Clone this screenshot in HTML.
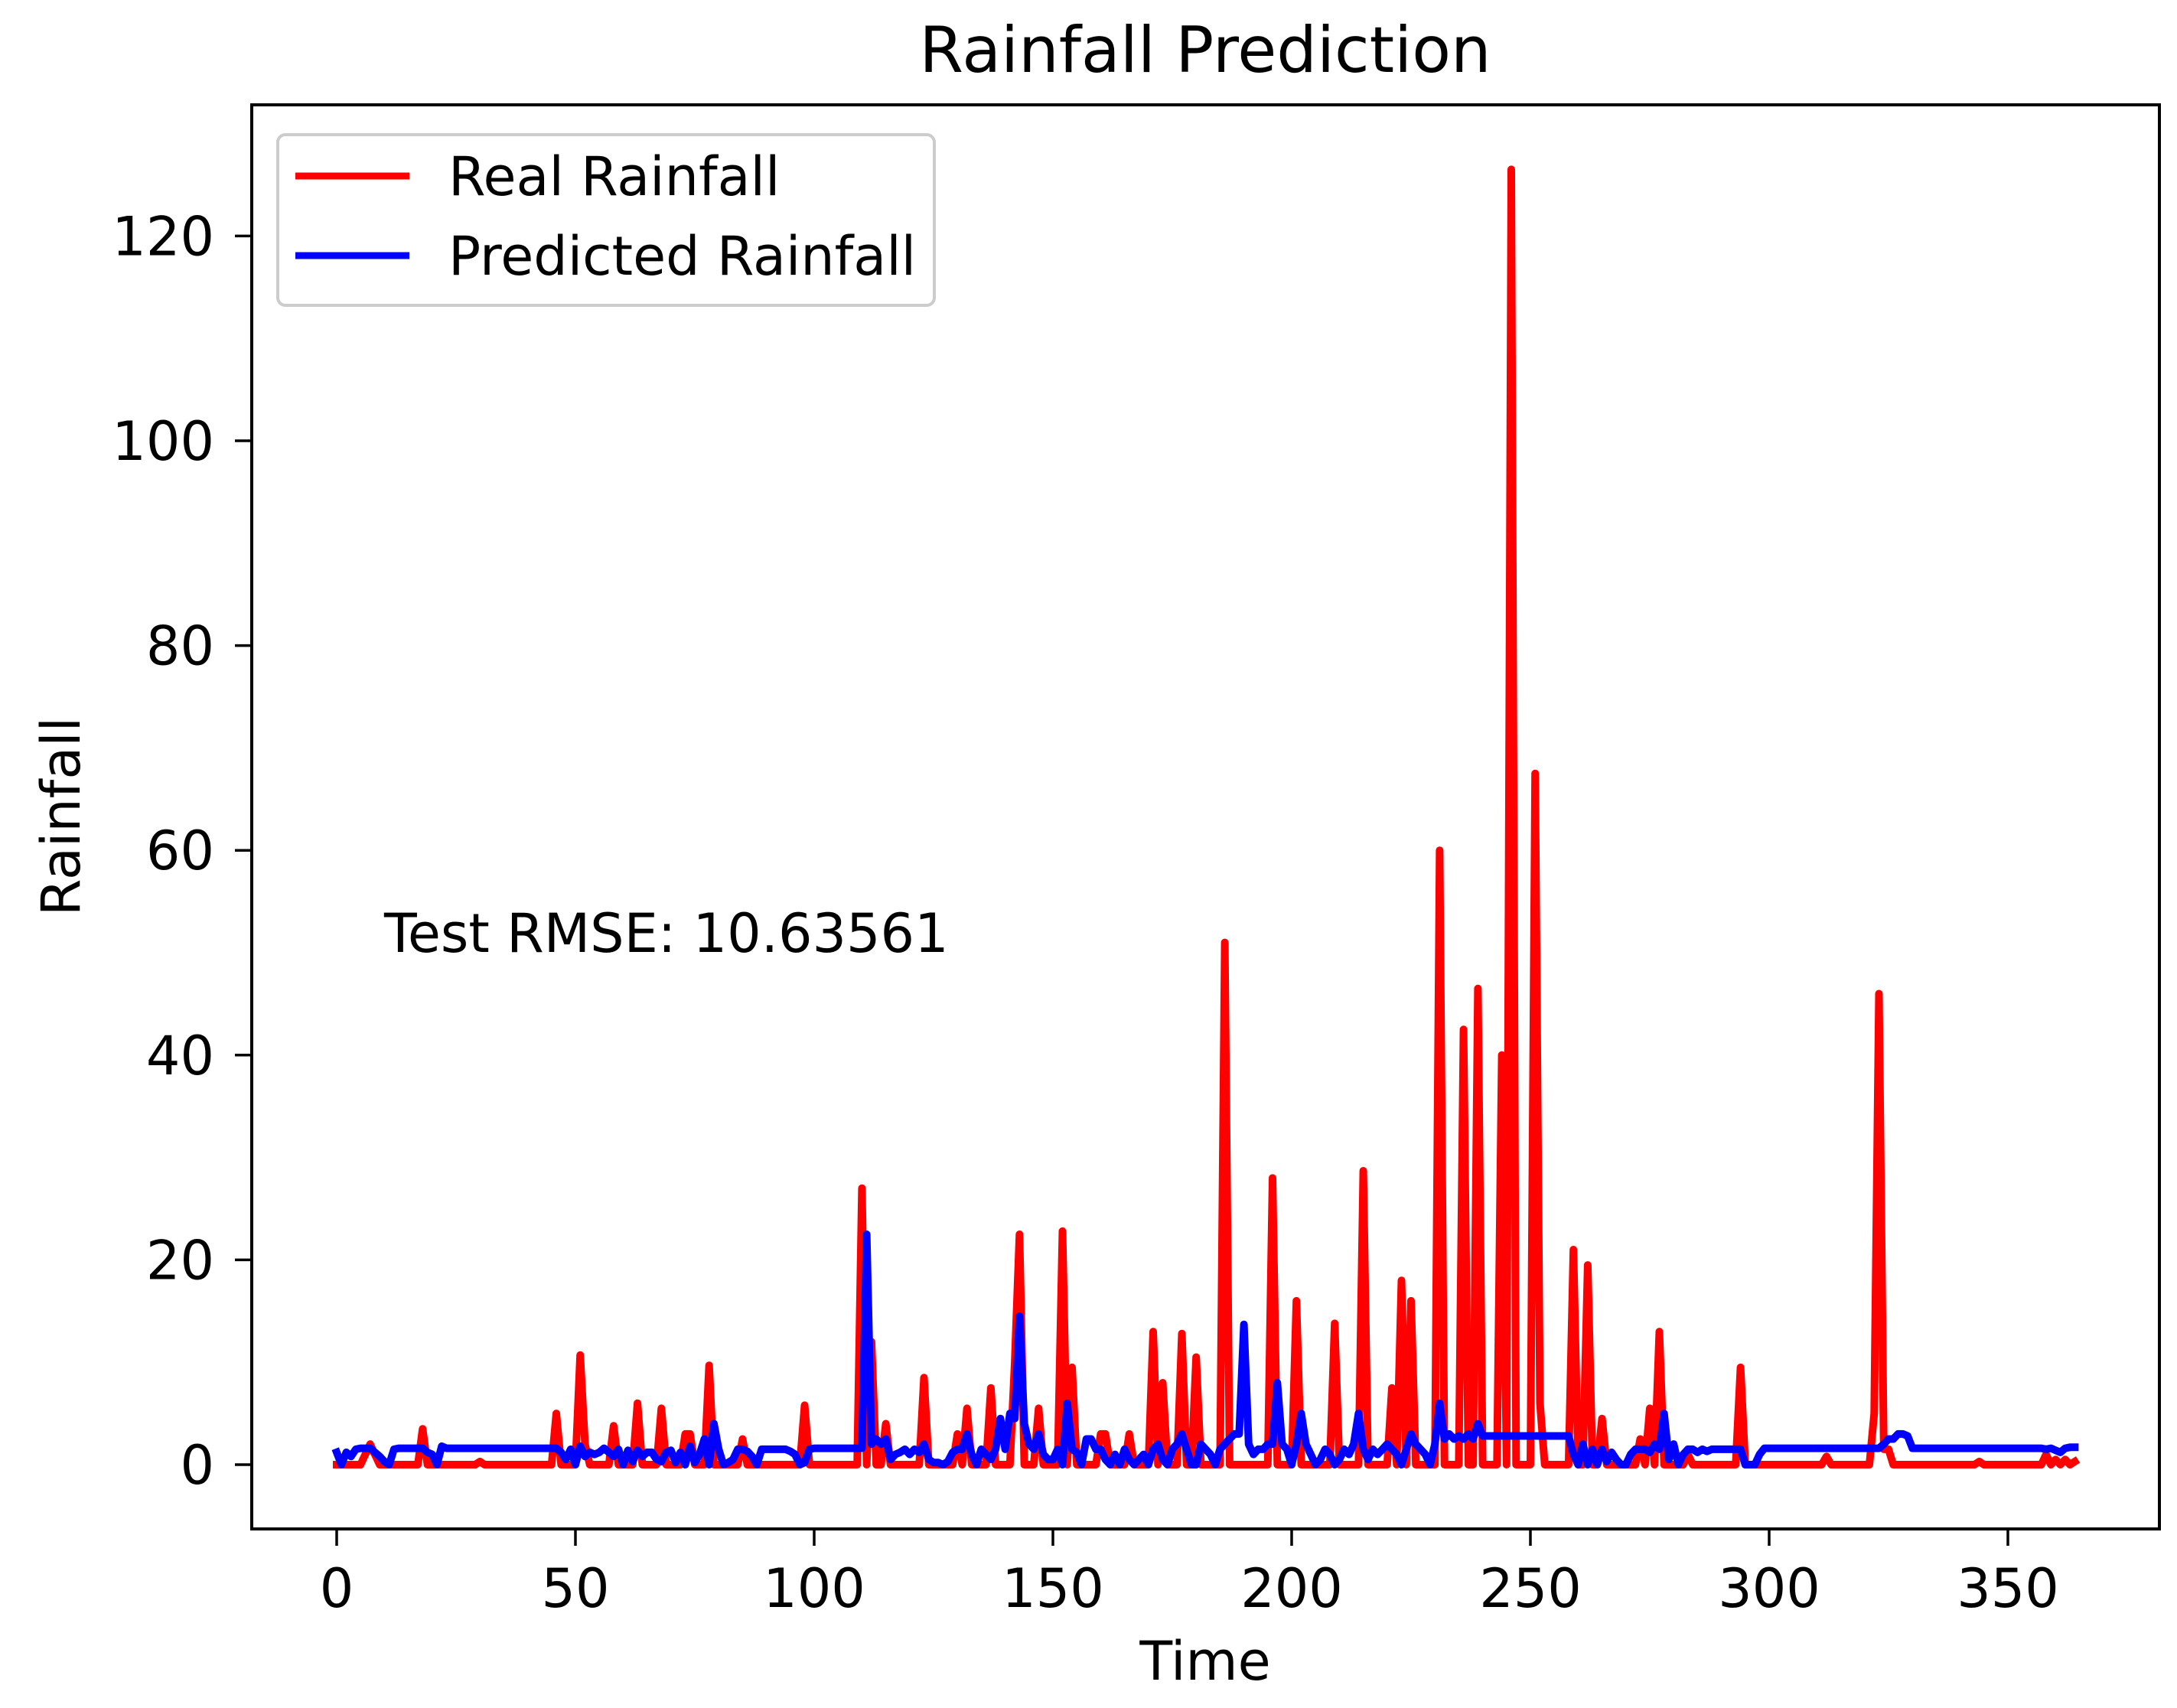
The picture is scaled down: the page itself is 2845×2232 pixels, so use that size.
<!DOCTYPE html>
<html><head><meta charset="utf-8"><style>
html,body{margin:0;padding:0;background:#fff;}
svg{display:block;}
text{font-family:"DejaVu Sans","Liberation Sans",sans-serif;fill:#000;}
</style></head><body>
<svg id="chart" width="2845" height="2232" viewBox="0 0 2845 2232" xmlns="http://www.w3.org/2000/svg">
<rect x="0" y="0" width="2845" height="2232" fill="#fff"/>
<text x="1575" y="94" font-size="83" text-anchor="middle">Rainfall Prediction</text>
<text x="1575" y="2195" font-size="70" text-anchor="middle">Time</text>
<text x="0" y="0" font-size="70" text-anchor="middle" transform="translate(104,1067) rotate(-90)">Rainfall</text>
<g id="plot"></g>
<g id="xticks"></g>
<g id="yticks"></g>
<rect x="329" y="137" width="2493" height="1861" fill="none" stroke="#000" stroke-width="4"/>
<text x="502" y="1244" font-size="70">Test RMSE: 10.63561</text>
<g>
<rect x="363" y="176" width="858" height="223" rx="10" fill="#fff" fill-opacity="0.8" stroke="#ccc" stroke-width="4"/>
<line x1="386" y1="230" x2="535" y2="230" stroke="#f00" stroke-width="9"/>
<text x="586" y="255" font-size="70">Real Rainfall</text>
<line x1="386" y1="334" x2="535" y2="334" stroke="#00f" stroke-width="9"/>
<text x="586" y="359" font-size="70">Predicted Rainfall</text>
</g>
</svg>
<script>
const xTicks = [0,50,100,150,200,250,300,350];
const yTicks = [0,20,40,60,80,100,120];
const realRainfall = [
0,0,0,0,0,0,1,2,1,0,0,0,0,0,0,0,0,0,3.5,0,
0,0,0,0,0,0,0,0,0,0,0.3,0,0,0,0,0,0,0,0,0,
0,0,0,0,0,0,5,0,0,0,0,10.7,2,0,0,0,0,0,3.8,0,
0,0,0,6,0,0,0,0,5.5,0,0,0,0,3,3,0,0,0,9.7,0,
0,0,0,0,0,2.5,0,0,0,0,0,0,0,0,0,0,0,0,5.8,0,
0,0,0,0,0,0,0,0,0,0,27,0,12,0,0,4,0,0,0,0,
0,0,0,8.5,0,0,0,0,0,0,3,0,5.5,0,0,0,0,7.5,0,0,
0,0,10,22.5,0,0,0,5.5,0,0,0,0,22.8,0,9.5,0,0,0,0,0,
3,3,0,0,0,0,3,0,0,0,0,13,0,8,0,0,0,12.8,0,0,
10.5,0,0,0,0,0,51,0,0,0,0,0,0,0,0,0,28,0,0,0,
0,16,0,0,0,0,0,0,0,13.8,0,0,0,0,0,28.7,0,0,0,0,
0,7.5,0,18,0,16,0,0,0,0,0,60,0,0,0,0,42.5,0,0,46.5,
0,0,0,0,40,0,126.5,0,0,0,0,67.5,6,0,0,0,0,0,0,21,
0,0,19.5,0,0,4.5,0,0,0,0,0,0,0,2.5,0,5.5,0,13,0,0,
0,0,0,1,0,0,0,0,0,0,0,0,0,0,9.5,0,0,0,0,0,
0,0,0,0,0,0,0,0,0,0,0,0,0.8,0,0,0,0,0,0,0,
0,0,5,46,1.5,1.5,0,0,0,0,0,0,0,0,0,0,0,0,0,0,
0,0,0,0,0.3,0,0,0,0,0,0,0,0,0,0,0,0,0,1,0,
0.5,0,0.5,0,0.3];
const predictedRainfall = [
1.2,0,1.2,0.8,1.5,1.6,1.6,1.6,1.2,0.8,0.3,0,1.5,1.6,1.6,1.6,1.6,1.6,1.6,1.2,
1,0,1.8,1.6,1.6,1.6,1.6,1.6,1.6,1.6,1.6,1.6,1.6,1.6,1.6,1.6,1.6,1.6,1.6,1.6,
1.6,1.6,1.6,1.6,1.6,1.6,1.6,1.2,0.5,1.5,0,1.8,0.8,1.2,1,1.2,1.6,1.2,0.8,1.5,
0,1.4,0.3,1.4,0.8,1.2,1.2,0.5,0.3,1.2,1.4,0.2,1.2,0,1.8,0.2,1,2.5,0,4,
1.5,0,0.2,0.5,1.5,1.5,1.3,0.8,0,1.5,1.5,1.5,1.5,1.5,1.5,1.3,1,0,0.2,1.5,
1.6,1.6,1.6,1.6,1.6,1.6,1.6,1.6,1.6,1.6,1.6,22.5,2,2.5,2,2.5,0.5,1,1.2,1.5,
1,1.5,1.2,2,0.5,0.2,0.2,0,0.3,1.2,1.5,1.5,3,1,0,1.5,1,0.5,1.5,4.5,
1.5,5,4.5,14.5,4,2,1.5,3,1,0.5,0.5,1.5,0,6,1.5,1.2,0,2.5,2.5,1.5,
1.5,0.5,0,1,0,1.5,0.5,0,0.5,1,0,1.5,2,0.5,0,1.5,2,3,1.5,0,
0,2,1.5,1,0,1.5,2,2.5,3,3,13.7,2,1,1.5,1.5,2,2,8,2,1.5,
0,2,5,2,1,0,0.5,1.5,1,0,0.5,1.5,1,2,5,1.5,0.5,1.5,1,1.5,
2,1.5,1,0,1.5,3,2,1.5,1,0,2,6,2.5,3,2.5,2.8,2.5,3,2.5,4,
2.8,2.8,2.8,2.8,2.8,2.8,2.8,2.8,2.8,2.8,2.8,2.8,2.8,2.8,2.8,2.8,2.8,2.8,2.8,1,
0,2,0,1.5,0,1.5,0.3,1.2,0.5,0,0,1,1.5,1.5,1.5,1.2,2,1.5,5,0.5,
2,0,1,1.5,1.5,1.2,1.5,1.3,1.5,1.5,1.5,1.5,1.5,1.5,1.5,0,0,0,1,1.6,
1.6,1.6,1.6,1.6,1.6,1.6,1.6,1.6,1.6,1.6,1.6,1.6,1.6,1.6,1.6,1.6,1.6,1.6,1.6,1.6,
1.6,1.6,1.6,1.6,2,2.5,2.5,3,3,2.8,1.6,1.6,1.6,1.6,1.6,1.6,1.6,1.6,1.6,1.6,
1.6,1.6,1.6,1.6,1.6,1.6,1.6,1.6,1.6,1.6,1.6,1.6,1.6,1.6,1.6,1.6,1.6,1.6,1.5,1.6,
1.4,1.2,1.6,1.7,1.7];

const NS = 'http://www.w3.org/2000/svg';
const X0 = 440, XS = 6.24, Y0 = 1914, YS = 13.38;
function xScale(v){ return X0 + v * XS; }
function yScale(v){ return Y0 - v * YS; }

const plot = document.getElementById('plot');
function drawSeries(vals, color, name){
  const p = document.createElementNS(NS, 'path');
  let d = '';
  vals.forEach((v, i) => { d += (i ? 'L' : 'M') + xScale(i).toFixed(1) + ',' + yScale(v).toFixed(1); });
  p.setAttribute('d', d);
  p.setAttribute('fill', 'none');
  p.setAttribute('stroke', color);
  p.setAttribute('stroke-width', '10');
  p.setAttribute('stroke-linejoin', 'round');
  p.setAttribute('stroke-linecap', 'square');
  
  
  plot.appendChild(p);
}
drawSeries(realRainfall, '#ff0000', 'real-rainfall-line');
drawSeries(predictedRainfall, '#0000ff', 'predicted-rainfall-line');

const xg = document.getElementById('xticks');
xTicks.forEach(t => {
  const l = document.createElementNS(NS, 'line');
  l.setAttribute('x1', xScale(t)); l.setAttribute('x2', xScale(t));
  l.setAttribute('y1', 1998); l.setAttribute('y2', 2020);
  l.setAttribute('stroke', '#000'); l.setAttribute('stroke-width', '3.5');
  
  
  xg.appendChild(l);
  const tx = document.createElementNS(NS, 'text');
  tx.setAttribute('x', xScale(t)); tx.setAttribute('y', 2100);
  tx.setAttribute('font-size', '70'); tx.setAttribute('text-anchor', 'middle');
  tx.textContent = t;
  
  
  xg.appendChild(tx);
});
const yg = document.getElementById('yticks');
yTicks.forEach(t => {
  const l = document.createElementNS(NS, 'line');
  l.setAttribute('x1', 307); l.setAttribute('x2', 329);
  l.setAttribute('y1', yScale(t)); l.setAttribute('y2', yScale(t));
  l.setAttribute('stroke', '#000'); l.setAttribute('stroke-width', '3.5');
  
  
  yg.appendChild(l);
  const tx = document.createElementNS(NS, 'text');
  tx.setAttribute('x', 280); tx.setAttribute('y', yScale(t) + 25);
  tx.setAttribute('font-size', '70'); tx.setAttribute('text-anchor', 'end');
  tx.textContent = t;
  
  
  yg.appendChild(tx);
});
</script>
</body></html>
